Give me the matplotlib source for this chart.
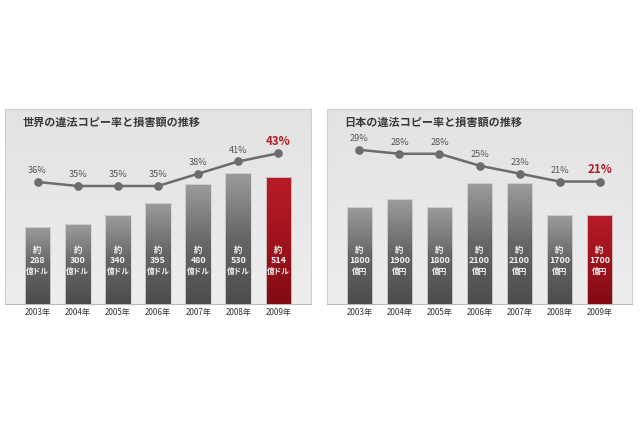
import matplotlib
matplotlib.use("Agg")
import matplotlib.pyplot as plt
import matplotlib.transforms as mtransforms
import numpy as np
from matplotlib.colors import LinearSegmentedColormap

plt.rcParams['font.family'] = ['Noto Sans CJK JP', 'DejaVu Sans']

years = ["2003年", "2004年", "2005年", "2006年", "2007年", "2008年", "2009年"]

world_title = "世界の違法コピー率と損害額の推移"
world_loss = [288, 300, 340, 395, 480, 530, 514]
world_rate = [36, 35, 35, 35, 38, 41, 43]
world_unit = "億ドル"

japan_title = "日本の違法コピー率と損害額の推移"
japan_loss = [1800, 1900, 1800, 2100, 2100, 1700, 1700]
japan_rate = [29, 28, 28, 25, 23, 21, 21]
japan_unit = "億円"

W, H = 640, 426

gray_cmap = LinearSegmentedColormap.from_list("g", ["#4c4c4c", "#666666", "#9c9c9c"])
red_cmap = LinearSegmentedColormap.from_list("r", ["#820b13", "#a0131d", "#b81c27"])
bg_cmap = LinearSegmentedColormap.from_list("bg", ["#eeeeee", "#e8e8e8", "#e3e3e3"])


def px_rect(x0, y0, x1, y1):
    # pixel box (top-left origin) -> figure fraction rect
    return [x0 / W, 1 - y1 / H, (x1 - x0) / W, (y1 - y0) / H]


def draw_panel(fig, box, title, loss, rate, unit, loss_lim, rate_lim):
    rect = px_rect(*box)

    bg = fig.add_axes(rect, zorder=0)
    bg.imshow(np.linspace(0, 1, 256).reshape(-1, 1), cmap=bg_cmap, aspect="auto",
              extent=[0, 1, 0, 1], origin="lower")
    bg.set_xticks([])
    bg.set_yticks([])
    for s in bg.spines.values():
        s.set_color("#cfcfcf")
        s.set_linewidth(0.8)
    bg.spines["bottom"].set_color("#b8b8b8")

    ax = fig.add_axes(rect, zorder=1)
    ax.patch.set_visible(False)
    x = np.arange(len(loss))
    base = loss_lim[0]
    bars = ax.bar(x, np.array(loss) - base, bottom=base, width=0.64,
                  facecolor="none", edgecolor="#d6d6d6", linewidth=0.6, zorder=3)
    grad = np.linspace(0, 1, 256).reshape(-1, 1)
    for i, b in enumerate(bars):
        cmap = red_cmap if i == len(loss) - 1 else gray_cmap
        im = ax.imshow(grad, cmap=cmap, aspect="auto", origin="lower", zorder=2,
                       extent=[b.get_x(), b.get_x() + b.get_width(),
                               b.get_y(), b.get_y() + b.get_height()])
        im.set_clip_path(b)
    ax.set_xlim(-0.81, 6.81)
    ax.set_ylim(*loss_lim)
    ax.set_yticks([])
    ax.set_xticks(x, years)
    ax.tick_params(axis="x", length=0, pad=2.8, labelsize=5.8, labelcolor="#333333")
    for s in ax.spines.values():
        s.set_visible(False)

    # labels inside the bars: 約 / value / unit
    trans = mtransforms.blended_transform_factory(ax.transData, ax.transAxes)
    for i, v in enumerate(loss):
        ax.text(i, 0.274, "約", transform=trans, ha="center", va="center",
                color="#f2f2f2", fontsize=6.0, fontweight="bold", zorder=4)
        ax.text(i, 0.221, str(v), transform=trans, ha="center", va="center",
                color="#f2f2f2", fontsize=6.4, fontweight="bold", zorder=4)
        ax.text(i, 0.166, unit, transform=trans, ha="center", va="center",
                color="#f2f2f2", fontsize=5.5, fontweight="bold", zorder=4)

    ax2 = ax.twinx()
    ax2.plot(x, rate, color="#6c6c6c", lw=1.8, marker="o", ms=5.2, zorder=5)
    ax2.set_ylim(*rate_lim)
    ax2.set_yticks([])
    for s in ax2.spines.values():
        s.set_visible(False)
    for i, r in enumerate(rate):
        if i == len(rate) - 1:
            ax2.annotate(f"{r}%", (i, r), xytext=(0, 8.8), textcoords="offset points",
                         ha="center", va="center", fontsize=8.3, fontweight="bold",
                         color="#b21d27")
        else:
            ax2.annotate(f"{r}%", (i, r), xytext=(0, 8), textcoords="offset points",
                         ha="center", va="center", fontsize=6.6, color="#555555")

    fig.text((box[0] + 17.5) / W, 1 - 122.5 / H, title, ha="left", va="center",
             fontsize=8, fontweight="bold", color="#3a3a3a")


fig = plt.figure(figsize=(6.4, 4.26), dpi=100)
fig.patch.set_facecolor("white")

draw_panel(fig, (5, 109, 311, 304), world_title, world_loss, world_rate, world_unit,
           (-60, 818), (6.2, 53.8))
draw_panel(fig, (327, 109, 632, 304), japan_title, japan_loss, japan_rate, japan_unit,
           (590, 3027), (-9.9, 39.3))

fig.savefig("out.png", dpi=100)
